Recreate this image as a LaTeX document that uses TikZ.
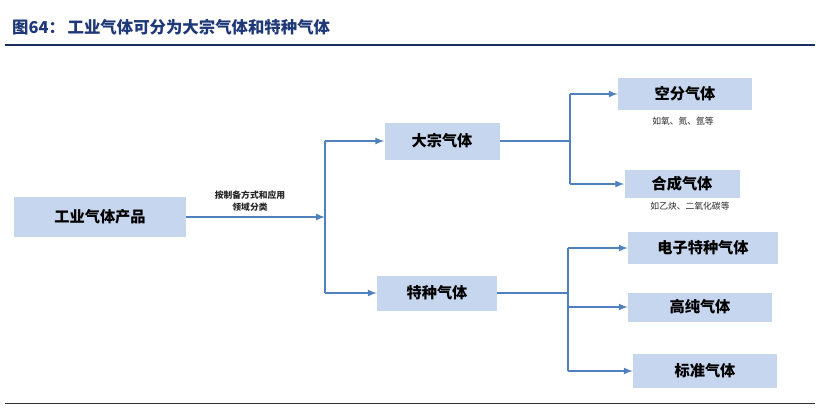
\documentclass[tikz,border=0pt]{standalone}
\usepackage{fontspec}
\newfontfamily\cjk{Noto Sans CJK SC}
\usetikzlibrary{positioning}
\definecolor{boxblue}{HTML}{C6D6EE}
\definecolor{lineblue}{HTML}{4F81BD}
\definecolor{titleblue}{HTML}{1F3878}
\tikzset{
  gas/.style={fill=boxblue, inner sep=0pt, font=\cjk\bfseries\fontsize{13}{15}\selectfont},
  link/.style={draw=lineblue, line width=1.6pt, ->, >=latex},
  trunk/.style={draw=lineblue, line width=1.6pt},
  note/.style={font=\cjk\fontsize{7.5}{9}\selectfont, text=black!85}
}
\begin{document}
\begin{tikzpicture}[x=0.03cm, y=-0.03cm]
    \useasboundingbox (0,0) rectangle (831,410);
    \node[anchor=west, text=titleblue, font=\cjk\bfseries\fontsize{14}{16}\selectfont] (title) at (8,27) {图64：\,工业气体可分为大宗气体和特种气体};
    \draw[titleblue!80!black, line width=1pt] (5,45) -- (815,45);
    \draw[black!80, line width=0.8pt] (5,403) -- (815,403);
    \node[gas, minimum width=172*0.03cm, minimum height=40*0.03cm] (a) at (100,217) {工业气体产品};
    \node[gas, minimum width=115*0.03cm, minimum height=37*0.03cm] (b) at (442,141) {大宗气体};
    \node[gas, minimum width=120*0.03cm, minimum height=35*0.03cm] (c) at (437,293) {特种气体};
    \node[gas, minimum width=134*0.03cm, minimum height=32*0.03cm] (d) at (685,94) {空分气体};
    \node[gas, minimum width=115*0.03cm, minimum height=28*0.03cm] (e) at (682,184) {合成气体};
    \node[gas, minimum width=150*0.03cm, minimum height=32*0.03cm] (f) at (703,248) {电子特种气体};
    \node[gas, minimum width=144*0.03cm, minimum height=29*0.03cm] (g) at (700,307) {高纯气体};
    \node[gas, minimum width=144*0.03cm, minimum height=34*0.03cm] (h) at (705,371) {标准气体};
    \node[note] (dn) at (683,121) {如氧、氮、氩等};
    \node[note] (en) at (690,206) {如乙炔、二氧化碳等};
    \node[note, align=center, font=\cjk\bfseries\fontsize{7.5}{10}\selectfont] (an) at (250,201) {按制备方式和应用\\领域分类};
    \coordinate (s1) at (325,217);
    \coordinate (s1t) at (325,141);
    \coordinate (s1b) at (325,293);
    \coordinate (s2) at (570,141);
    \coordinate (s2t) at (570,94);
    \coordinate (s2b) at (570,184);
    \coordinate (s3) at (568,293);
    \coordinate (s3t) at (568,248);
    \coordinate (s3m) at (568,307);
    \coordinate (s3b) at (568,371);
    \draw[link] (a.east) -- (s1);
    \draw[trunk] (s1t) -- (s1b);
    \draw[link] (s1t) -- (b.west);
    \draw[link] (s1b) -- (c.west);
    \draw[trunk] (b.east) -- (s2);
    \draw[trunk] (s2t) -- (s2b);
    \draw[link] (s2t) -- (d.west);
    \draw[link] (s2b) -- (e.west);
    \draw[trunk] (c.east) -- (s3);
    \draw[trunk] (s3t) -- (s3b);
    \draw[link] (s3t) -- (f.west);
    \draw[link] (s3m) -- (g.west);
    \draw[link] (s3b) -- (h.west);
\end{tikzpicture}
\end{document}
